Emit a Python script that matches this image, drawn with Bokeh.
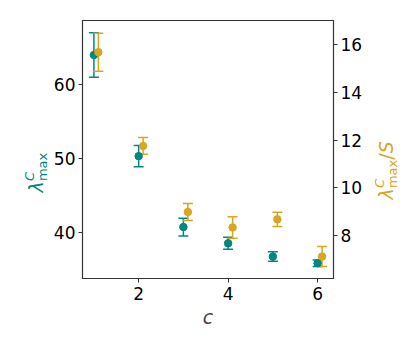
import math
from bokeh.plotting import figure
from bokeh.layouts import row
from bokeh.models import Range1d, LinearAxis, Whisker, TeeHead, ColumnDataSource, FixedTicker, Label
from bokeh.embed import file_html
from bokeh.resources import INLINE

c_vals = [1, 2, 3, 4, 5, 6]
lam_max = [64.0, 50.3, 40.7, 38.5, 36.7, 35.8]
lam_err = [3.0, 1.45, 1.2, 0.8, 0.65, 0.45]
lam_s = [15.69, 11.76, 8.99, 8.34, 8.68, 7.12]
lam_s_err = [0.8, 0.35, 0.36, 0.45, 0.3, 0.42]
offset = 0.1

TEAL = "#00877f"
GOLD = "#daa520"
FONT = "DejaVu Sans"

xs_t = [c for c in c_vals]
xs_g = [c + offset for c in c_vals]

src_t = ColumnDataSource(dict(x=xs_t, y=lam_max,
                              lo=[v - e for v, e in zip(lam_max, lam_err)],
                              hi=[v + e for v, e in zip(lam_max, lam_err)]))
src_g = ColumnDataSource(dict(x=xs_g, y=lam_s,
                              lo=[v - e for v, e in zip(lam_s, lam_s_err)],
                              hi=[v + e for v, e in zip(lam_s, lam_s_err)]))

LW, RW = 50, 46           # widths of the side label panels
BL, BT, BR, BB = 32, 20, 29, 60
FW, FH = 251, 258
H = BT + FH + BB

p = figure(frame_width=FW, frame_height=FH, output_backend="svg", toolbar_location=None,
           x_range=Range1d(0.745, 6.355), y_range=Range1d(33.73, 68.67),
           min_border_left=BL, min_border_right=BR, min_border_top=BT, min_border_bottom=BB)
p.extra_y_ranges = {"right": Range1d(6.2, 17.02)}

p.xgrid.visible = False
p.ygrid.visible = False
p.outline_line_color = "#333333"
p.outline_line_width = 1.2


def style_axis(ax):
    ax.major_label_text_font = FONT
    ax.major_label_text_font_size = "17px"
    ax.major_label_text_color = "black"
    ax.major_label_standoff = 3
    ax.minor_tick_line_color = None
    ax.major_tick_in = 0
    ax.major_tick_out = 4
    ax.axis_line_color = "#333333"
    ax.major_tick_line_color = "#333333"
    ax.axis_label_text_font = FONT
    ax.axis_label_text_font_size = "19px"
    ax.axis_label_text_font_style = "normal"

style_axis(p.xaxis[0])
p.xaxis[0].ticker = FixedTicker(ticks=[2, 4, 6])
p.xaxis[0].axis_label = "c"
p.xaxis[0].axis_label_text_font_style = "italic"
p.xaxis[0].axis_label_standoff = 3
p.xaxis[0].major_label_standoff = 4

style_axis(p.yaxis[0])
p.yaxis[0].ticker = FixedTicker(ticks=[40, 50, 60])

ra = LinearAxis(y_range_name="right", ticker=FixedTicker(ticks=[8, 10, 12, 14, 16]))
style_axis(ra)
p.add_layout(ra, "right")

wt = Whisker(source=src_t, base="x", lower="lo", upper="hi",
             line_color=TEAL, line_width=1.5,
             upper_head=TeeHead(size=10, line_color=TEAL, line_width=1.5),
             lower_head=TeeHead(size=10, line_color=TEAL, line_width=1.5))
p.add_layout(wt)
p.scatter("x", "y", source=src_t, size=7.5, color=TEAL)

wg = Whisker(source=src_g, base="x", lower="lo", upper="hi", y_range_name="right",
             line_color=GOLD, line_width=1.5,
             upper_head=TeeHead(size=10, line_color=GOLD, line_width=1.5),
             lower_head=TeeHead(size=10, line_color=GOLD, line_width=1.5))
p.add_layout(wg)
p.scatter("x", "y", source=src_g, size=7.5, color=GOLD, y_range_name="right")

# side panels holding the rotated axis titles (read bottom to top)
BIG, SMALL = 19, 13
W_LAM = 0.60 * BIG
W_MAX = 2.18 * SMALL
W_SLASH = 0.34 * BIG


def label_panel(w):
    f = figure(frame_width=w, frame_height=H, output_backend="svg", toolbar_location=None,
               x_range=Range1d(0, w), y_range=Range1d(0, H),
               x_axis_location=None, y_axis_location=None,
               min_border=0, min_border_left=0, min_border_right=0,
               min_border_top=0, min_border_bottom=0)
    f.outline_line_color = None
    f.grid.visible = False
    return f


def rot_text(f, txt, x, y, size, color, style):
    f.add_layout(Label(x=x, y=y, text=txt, angle=math.pi / 2,
                       text_font=FONT, text_font_size=f"{size}px",
                       text_font_style=style, text_color=color,
                       text_align="left", text_baseline="alphabetic"))


def composite(f, bx, y0, color, suffix):
    rot_text(f, "λ", bx, y0, BIG, color, "italic")
    rot_text(f, "C", bx - 0.30 * BIG, y0 + W_LAM, SMALL, color, "italic")
    rot_text(f, "max", bx + 0.35 * BIG, y0 + W_LAM, SMALL, color, "normal")
    if suffix:
        rot_text(f, "/", bx, y0 + W_LAM + W_MAX, BIG, color, "normal")
        rot_text(f, "S", bx, y0 + W_LAM + W_MAX + W_SLASH, BIG, color, "italic")

left_panel = label_panel(LW)
composite(left_panel, 35, H - 172, TEAL, False)

right_panel = label_panel(RW)
composite(right_panel, 20, H - 179, GOLD, True)

layout = row(left_panel, p, right_panel, spacing=0)

open("out.html", "w").write(file_html(layout, INLINE))
